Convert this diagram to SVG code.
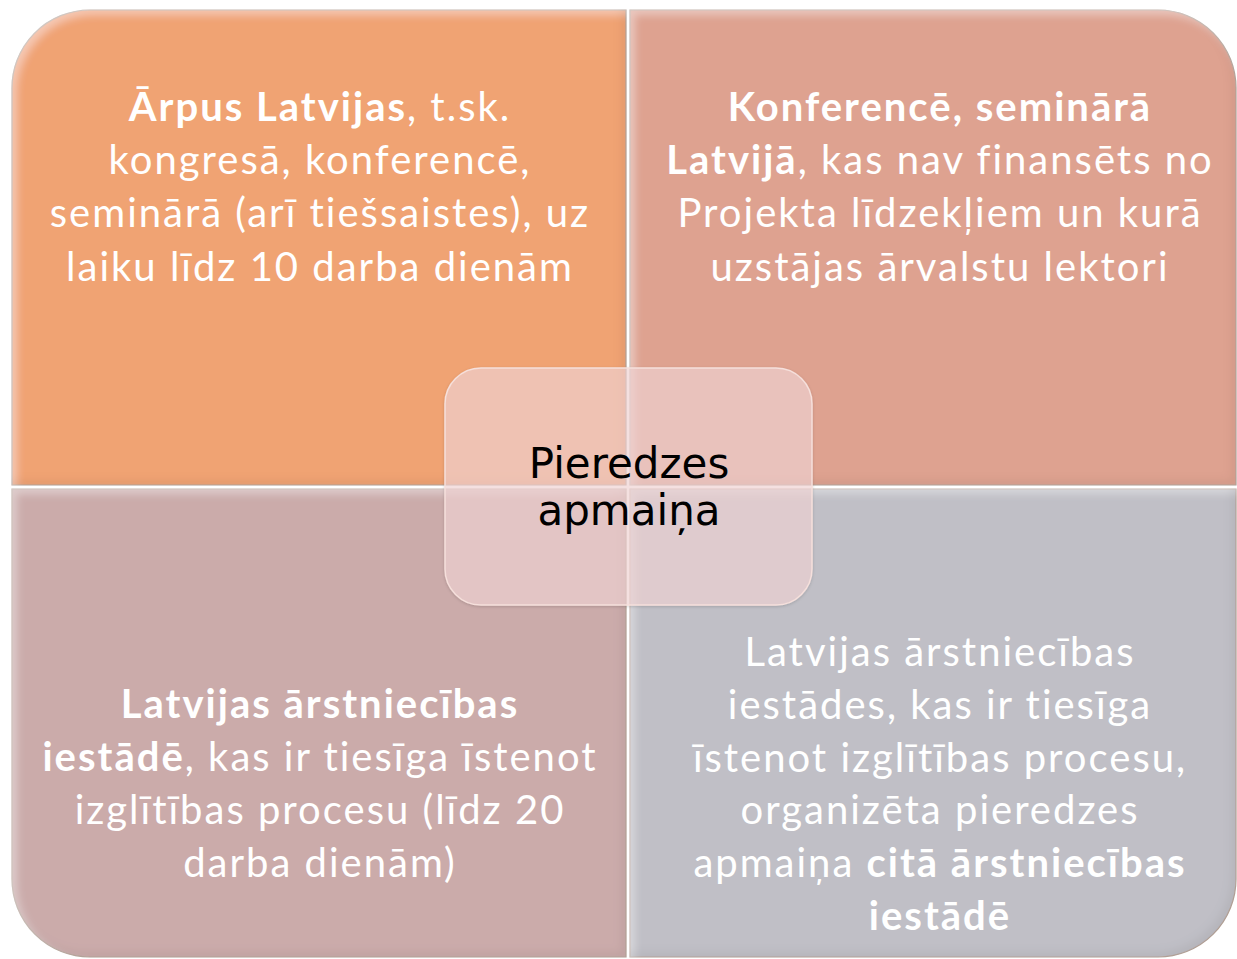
<svg xmlns="http://www.w3.org/2000/svg" width="1237" height="959" viewBox="0 0 1237 959">
<style>
.q{font-family:Lato,"Liberation Sans",sans-serif;font-size:40px;letter-spacing:2px;fill:#fff;text-anchor:middle;font-variant-ligatures:none}
.b{font-weight:bold}
.c{font-family:"DejaVu Sans",Verdana,sans-serif;font-size:42px;fill:#000;text-anchor:middle}
.edge{stroke:#b8a59a;stroke-width:1.2}
</style>
<defs>
<filter id="bevel" x="-5%" y="-5%" width="110%" height="110%">
<feGaussianBlur in="SourceAlpha" stdDeviation="4" result="b"/>
<feOffset in="b" dx="5" dy="5" result="o1"/>
<feComposite in="SourceAlpha" in2="o1" operator="out" result="hl"/>
<feFlood flood-color="#ffffff" flood-opacity="0.35"/>
<feComposite in2="hl" operator="in" result="hlc"/>
<feOffset in="b" dx="-5" dy="-5" result="o2"/>
<feComposite in="SourceAlpha" in2="o2" operator="out" result="dk"/>
<feFlood flood-color="#000000" flood-opacity="0.12"/>
<feComposite in2="dk" operator="in" result="dkc"/>
<feMerge><feMergeNode in="SourceGraphic"/><feMergeNode in="hlc"/><feMergeNode in="dkc"/></feMerge>
</filter>
<filter id="shadow" x="-10%" y="-10%" width="120%" height="120%">
<feDropShadow dx="0" dy="1" stdDeviation="1.5" flood-color="#000" flood-opacity="0.18"/>
</filter>
</defs>
<g id="q-tl">
<path class="edge" filter="url(#bevel)" fill="#F0A373" d="M12,90 A78,78 0 0 1 90,10 L626,10 L626,485 L12,485 Z"/>
<text class="q" x="320" y="121"><tspan class="b">Ārpus Latvijas</tspan>, t.sk.</text>
<text class="q" x="320" y="174">kongresā, konferencē,</text>
<text class="q" x="320" y="227">seminārā (arī tiešsaistes), uz</text>
<text class="q" x="320" y="281">laiku līdz 10 darba dienām</text>
</g>
<g id="q-tr">
<path class="edge" filter="url(#bevel)" fill="#DEA290" d="M630,10 L1158,10 A78,78 0 0 1 1236,88 L1236,485 L630,485 Z"/>
<text class="q b" x="940" y="121">Konferencē, seminārā</text>
<text class="q" x="940" y="174"><tspan class="b">Latvijā</tspan>, kas nav finansēts no</text>
<text class="q" x="940" y="227">Projekta līdzekļiem un kurā</text>
<text class="q" x="940" y="281">uzstājas ārvalstu lektori</text>
</g>
<g id="q-bl">
<path class="edge" filter="url(#bevel)" fill="#CBABAA" d="M12,489 L626,489 L626,957 L90,957 A78,78 0 0 1 12,879 Z"/>
<text class="q b" x="320" y="718">Latvijas ārstniecības</text>
<text class="q" x="320" y="771"><tspan class="b">iestādē</tspan>, kas ir tiesīga īstenot</text>
<text class="q" x="320" y="824">izglītības procesu (līdz 20</text>
<text class="q" x="320" y="877">darba dienām)</text>
</g>
<g id="q-br">
<path class="edge" filter="url(#bevel)" fill="#C0BFC6" d="M630,489 L1236,489 L1236,879 A78,78 0 0 1 1158,957 L630,957 Z"/>
<text class="q" x="940" y="666">Latvijas ārstniecības</text>
<text class="q" x="940" y="719">iestādes, kas ir tiesīga</text>
<text class="q" x="940" y="772">īstenot izglītības procesu,</text>
<text class="q" x="940" y="824">organizēta pieredzes</text>
<text class="q" x="940" y="877">apmaiņa <tspan class="b">citā ārstniecības</tspan></text>
<text class="q b" x="940" y="930">iestādē</text>
</g>
<g id="center">
<rect x="445" y="368" width="367" height="237" rx="36" ry="36" fill="rgb(246,216,216)" fill-opacity="0.63" stroke="#f6e0dc" stroke-width="1.5" filter="url(#shadow)"/>
<text class="c" x="629" y="478">Pieredzes</text>
<text class="c" x="629" y="525">apmaiņa</text>
</g>
</svg>
